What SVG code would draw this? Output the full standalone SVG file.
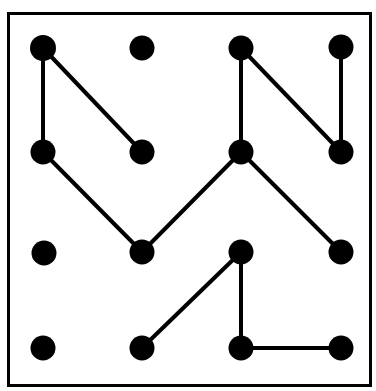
<svg xmlns="http://www.w3.org/2000/svg" width="376" height="391" viewBox="0 0 376 391">
<style>
.frame{fill:none;stroke:#000;stroke-width:3}
.edge{stroke:#000;stroke-width:4;stroke-linecap:round;fill:none}
.dot{fill:#000}
</style>
<rect width="376" height="391" fill="#fff"/>
<rect class="frame" x="8.5" y="13.5" width="362" height="372"/>
<g id="connectors">
<line class="edge" x1="43" y1="48" x2="43" y2="152"/>
<line class="edge" x1="43" y1="48" x2="142" y2="152"/>
<line class="edge" x1="43" y1="152" x2="142" y2="252"/>
<line class="edge" x1="142" y1="252" x2="241" y2="152"/>
<line class="edge" x1="241" y1="48" x2="241" y2="152"/>
<line class="edge" x1="241" y1="48" x2="341" y2="152"/>
<line class="edge" x1="341" y1="48" x2="341" y2="152"/>
<line class="edge" x1="241" y1="152" x2="341" y2="252"/>
<line class="edge" x1="142" y1="348" x2="241" y2="252"/>
<line class="edge" x1="241" y1="252" x2="241" y2="348"/>
<line class="edge" x1="241" y1="348" x2="341" y2="348"/>
</g>
<g id="n11"><circle class="dot" cx="43" cy="48" r="13"/></g>
<g id="n12"><circle class="dot" cx="142" cy="48" r="12.5"/></g>
<g id="n13"><circle class="dot" cx="241" cy="48" r="12.5"/></g>
<g id="n14"><circle class="dot" cx="341" cy="47" r="12.5"/></g>
<g id="n21"><circle class="dot" cx="43" cy="152" r="12.5"/></g>
<g id="n22"><circle class="dot" cx="142" cy="152" r="12.5"/></g>
<g id="n23"><circle class="dot" cx="241" cy="152" r="12.5"/></g>
<g id="n24"><circle class="dot" cx="341" cy="152" r="12.5"/></g>
<g id="n31"><circle class="dot" cx="44" cy="253" r="12.5"/></g>
<g id="n32"><circle class="dot" cx="142" cy="252" r="12.5"/></g>
<g id="n33"><circle class="dot" cx="241" cy="252" r="12.5"/></g>
<g id="n34"><circle class="dot" cx="341" cy="252" r="12.5"/></g>
<g id="n41"><circle class="dot" cx="43" cy="348" r="12.5"/></g>
<g id="n42"><circle class="dot" cx="142" cy="348" r="12.5"/></g>
<g id="n43"><circle class="dot" cx="241" cy="348" r="12.5"/></g>
<g id="n44"><circle class="dot" cx="341" cy="348" r="12.5"/></g>
</svg>
